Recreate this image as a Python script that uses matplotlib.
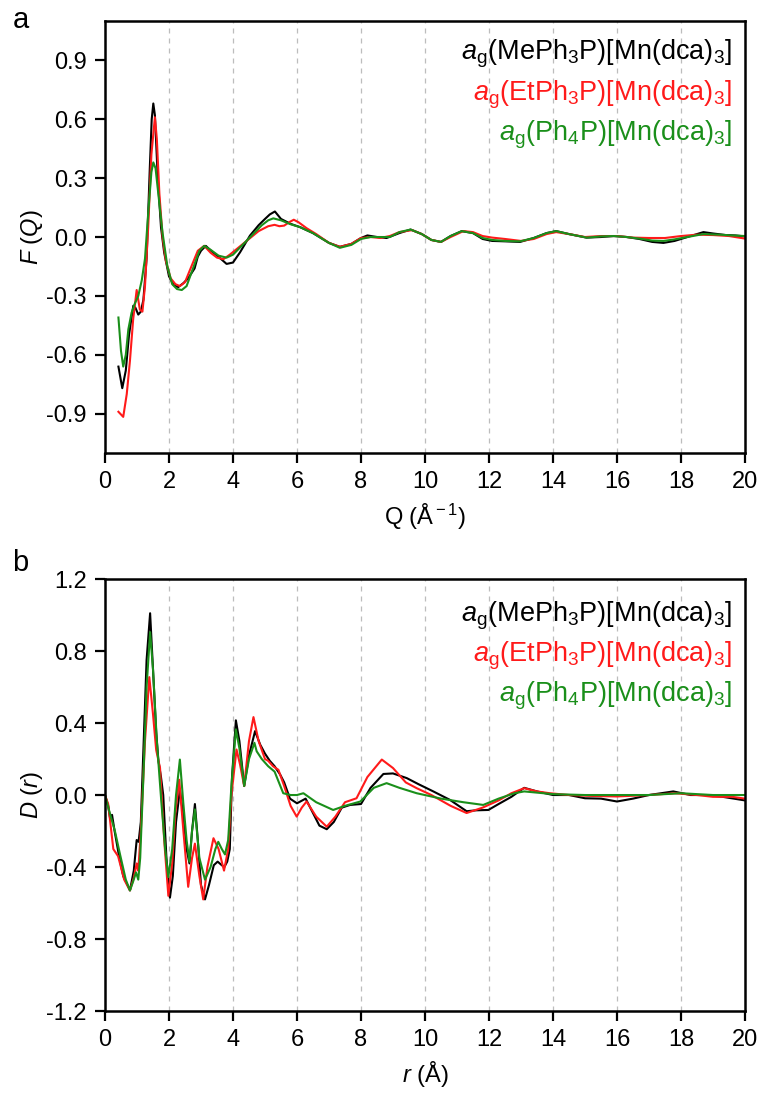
import matplotlib
matplotlib.use("Agg")
import matplotlib.pyplot as plt
import numpy as np

plt.rcParams['font.family'] = ['Liberation Sans', 'DejaVu Sans']
plt.rcParams['mathtext.fontset'] = 'custom'
plt.rcParams['mathtext.rm'] = 'Liberation Sans'
plt.rcParams['mathtext.it'] = 'Liberation Sans:italic'
plt.rcParams['axes.unicode_minus'] = False

# ---- panel a: F(Q) ----
q_me = [0.42, 0.54, 0.65, 0.75, 0.885, 0.95, 1.04, 1.12, 1.2, 1.3, 1.4, 1.46, 1.51, 1.56, 1.65,
        1.75, 1.85, 2.0, 2.15, 2.29, 2.45, 2.6, 2.8, 2.9, 3.0, 3.15, 3.31, 3.57, 3.8, 4.0, 4.22,
        4.53, 4.8, 5.0, 5.15, 5.31, 5.5, 5.8, 6.1, 6.5, 7.0, 7.34, 7.7, 8.0, 8.2, 8.5, 8.8,
        9.2, 9.55, 9.9, 10.2, 10.5, 10.8, 11.15, 11.5, 11.8, 12.1, 12.5, 12.97, 13.4, 13.8,
        14.1, 14.5, 15.05, 15.5, 15.9, 16.3, 16.7, 17.1, 17.45, 17.8, 18.2, 18.7, 19.0, 19.4,
        19.7, 20.0]
f_me = [-0.66, -0.77, -0.68, -0.50, -0.35, -0.36, -0.395, -0.38, -0.32, -0.11, 0.35, 0.60,
        0.68, 0.62, 0.30, 0.05, -0.08, -0.20, -0.245, -0.255, -0.235, -0.21, -0.16, -0.10,
        -0.07, -0.045, -0.07, -0.104, -0.137, -0.13, -0.078, 0.007, 0.06, 0.092, 0.115, 0.13,
        0.092, 0.067, 0.05, 0.02, -0.03, -0.05, -0.035, -0.005, 0.008, 0.0, -0.005, 0.02,
        0.038, 0.015, -0.015, -0.025, 0.005, 0.03, 0.02, -0.01, -0.02, -0.022, -0.025, -0.005,
        0.02, 0.03, 0.015, -0.003, 0.0, 0.005, 0.0, -0.01, -0.025, -0.03, -0.02, 0.0, 0.025,
        0.018, 0.01, 0.008, 0.003]

q_et = [0.42, 0.57, 0.68, 0.78, 0.88, 0.99, 1.09, 1.17, 1.25, 1.35, 1.45, 1.56, 1.62, 1.7,
        1.8, 1.9, 2.05, 2.2, 2.34, 2.5, 2.7, 2.9, 3.1, 3.3, 3.5, 3.7, 3.9, 4.2, 4.5, 4.8, 5.1,
        5.3, 5.45, 5.6, 5.75, 5.9, 6.05, 6.3, 6.6, 7.0, 7.34, 7.7, 8.0, 8.3, 8.6, 8.9, 9.2,
        9.6, 9.9, 10.2, 10.5, 10.8, 11.2, 11.5, 11.8, 12.1, 12.5, 13.0, 13.4, 13.8, 14.1,
        14.5, 15.0, 15.5, 16.0, 16.5, 17.0, 17.5, 18.0, 18.5, 19.0, 19.5, 20.0]
f_et = [-0.89, -0.916, -0.80, -0.63, -0.42, -0.27, -0.37, -0.38, -0.25, 0.05, 0.42, 0.61,
        0.50, 0.22, 0.0, -0.12, -0.21, -0.24, -0.25, -0.23, -0.15, -0.07, -0.045, -0.08,
        -0.105, -0.113, -0.09, -0.05, -0.01, 0.03, 0.055, 0.062, 0.055, 0.058, 0.075, 0.088,
        0.075, 0.045, 0.015, -0.03, -0.05, -0.035, -0.005, 0.0, -0.005, 0.005, 0.025, 0.035,
        0.015, -0.015, -0.025, 0.0, 0.03, 0.025, 0.005, -0.003, -0.01, -0.02, -0.01, 0.015,
        0.025, 0.015, 0.0, 0.005, 0.005, -0.003, -0.005, -0.005, 0.005, 0.012, 0.01, 0.005,
        -0.008]

q_ph = [0.42, 0.5, 0.57, 0.65, 0.73, 0.83, 0.93, 1.04, 1.15, 1.25, 1.35, 1.45, 1.51, 1.58,
        1.68, 1.8, 1.95, 2.1, 2.25, 2.4, 2.55, 2.75, 2.95, 3.1, 3.3, 3.55, 3.8, 4.0, 4.3, 4.6,
        4.9, 5.1, 5.26, 5.5, 5.8, 6.1, 6.5, 7.0, 7.34, 7.7, 8.0, 8.3, 8.6, 8.9, 9.2, 9.55,
        9.9, 10.2, 10.5, 10.8, 11.15, 11.5, 11.8, 12.1, 12.5, 12.97, 13.4, 13.8, 14.1, 14.5,
        15.05, 15.5, 15.9, 16.3, 16.7, 17.1, 17.45, 17.8, 18.2, 18.7, 19.2, 19.6, 20.0]
f_ph = [-0.41, -0.58, -0.66, -0.60, -0.47, -0.386, -0.34, -0.30, -0.22, -0.11, 0.12, 0.33,
        0.38, 0.35, 0.20, 0.02, -0.15, -0.24, -0.265, -0.27, -0.25, -0.16, -0.07, -0.045,
        -0.065, -0.095, -0.105, -0.09, -0.04, 0.01, 0.06, 0.085, 0.095, 0.085, 0.065, 0.05,
        0.02, -0.03, -0.055, -0.04, -0.01, 0.0, 0.0, 0.0, 0.025, 0.038, 0.015, -0.015,
        -0.025, 0.005, 0.03, 0.02, -0.005, -0.015, -0.02, -0.022, -0.005, 0.02, 0.03, 0.015,
        -0.003, 0.003, 0.005, 0.0, -0.008, -0.018, -0.02, -0.012, 0.0, 0.015, 0.012, 0.008,
        0.005]

# ---- panel b: D(r) ----
r_me = [0.0, 0.1, 0.16, 0.22, 0.3, 0.45, 0.57, 0.78, 0.9, 0.99, 1.05, 1.12, 1.2, 1.3, 1.41,
        1.5, 1.6, 1.67, 1.75, 1.82, 1.92, 2.03, 2.12, 2.22, 2.34, 2.45, 2.55, 2.64, 2.72, 2.81,
        2.9, 3.0, 3.125, 3.25, 3.4, 3.52, 3.65, 3.73, 3.82, 3.9, 3.97, 4.09, 4.2, 4.35, 4.5,
        4.69, 4.85, 5.0, 5.15, 5.3, 5.47, 5.6, 5.78, 6.0, 6.27, 6.5, 6.7, 6.93, 7.15, 7.4,
        7.66, 8.0, 8.3, 8.7, 9.0, 9.43, 9.8, 10.26, 10.78, 11.3, 11.6, 11.98, 12.3, 12.7,
        13.1, 13.5, 14.0, 14.5, 15.0, 15.5, 16.0, 16.5, 17.0, 17.76, 18.3, 18.8, 19.3, 20.0]
d_me = [0.0, -0.06, -0.13, -0.11, -0.2, -0.35, -0.45, -0.53, -0.42, -0.25, -0.26, -0.15,
        0.25, 0.75, 1.01, 0.7, 0.35, 0.19, 0.1, 0.0, -0.35, -0.57, -0.45, -0.15, 0.03, -0.12,
        -0.3, -0.38, -0.2, -0.05, -0.25, -0.5, -0.58, -0.5, -0.39, -0.37, -0.39, -0.4, -0.37,
        -0.3, 0.1, 0.415, 0.3, 0.05, 0.22, 0.355, 0.28, 0.23, 0.19, 0.16, 0.115, 0.07, -0.02,
        -0.046, -0.02, -0.1, -0.17, -0.19, -0.15, -0.07, -0.055, -0.05, 0.04, 0.117, 0.12,
        0.094, 0.06, 0.02, -0.027, -0.09, -0.085, -0.083, -0.05, -0.01, 0.04, 0.02, 0.0, 0.0,
        -0.018, -0.02, -0.036, -0.02, 0.0, 0.02, 0.0, 0.0, -0.01, -0.03]

r_et = [0.0, 0.1, 0.26, 0.41, 0.6, 0.78, 0.9, 0.99, 1.04, 1.12, 1.25, 1.385, 1.5, 1.6, 1.72,
        1.85, 1.98, 2.1, 2.2, 2.32, 2.45, 2.6, 2.72, 2.81, 2.95, 3.07, 3.2, 3.39, 3.55, 3.72,
        3.85, 3.95, 4.11, 4.22, 4.35, 4.5, 4.64, 4.8, 5.0, 5.1, 5.25, 5.42, 5.6, 5.8, 5.99,
        6.15, 6.3, 6.6, 6.93, 7.2, 7.5, 7.86, 8.2, 8.65, 9.0, 9.4, 9.74, 10.2, 10.8, 11.3,
        11.8, 12.3, 12.7, 13.1, 13.5, 13.9, 14.5, 15.2, 16.0, 17.0, 17.8, 18.5, 19.0, 19.6,
        20.0]
d_et = [0.0, -0.05, -0.3, -0.34, -0.47, -0.53, -0.46, -0.38, -0.42, -0.2, 0.3, 0.655, 0.45,
        0.25, 0.15, -0.25, -0.56, -0.38, -0.1, 0.085, -0.2, -0.51, -0.35, -0.27, -0.45, -0.58,
        -0.4, -0.24, -0.3, -0.42, -0.3, 0.0, 0.253, 0.17, 0.05, 0.3, 0.433, 0.3, 0.2, 0.19,
        0.16, 0.14, 0.05, -0.06, -0.12, -0.07, -0.036, -0.12, -0.176, -0.12, -0.04, -0.018,
        0.1, 0.197, 0.15, 0.07, 0.038, 0.0, -0.06, -0.1, -0.07, -0.03, 0.01, 0.038, 0.02,
        0.01, 0.0, -0.005, -0.008, 0.0, 0.01, 0.0, -0.01, -0.01, -0.02]

r_ph = [0.0, 0.15, 0.31, 0.47, 0.65, 0.78, 0.88, 0.97, 1.04, 1.1, 1.2, 1.3, 1.41, 1.5, 1.62,
        1.76, 1.88, 1.98, 2.1, 2.22, 2.34, 2.45, 2.55, 2.64, 2.72, 2.81, 2.95, 3.125, 3.3,
        3.45, 3.54, 3.65, 3.75, 3.85, 3.95, 4.09, 4.2, 4.35, 4.5, 4.67, 4.74, 4.9, 5.1, 5.3,
        5.57, 5.8, 6.0, 6.2, 6.6, 7.13, 7.5, 7.98, 8.4, 8.8, 9.2, 9.74, 10.5, 11.2, 11.82,
        12.3, 12.8, 13.1, 14.0, 15.0, 16.0, 17.0, 18.0, 19.0, 20.0]
d_ph = [0.0, -0.1, -0.2, -0.33, -0.47, -0.53, -0.48, -0.43, -0.47, -0.35, 0.1, 0.6, 0.905,
        0.7, 0.3, -0.036, -0.3, -0.456, -0.3, 0.0, 0.197, -0.05, -0.25, -0.37, -0.2, -0.08,
        -0.35, -0.47, -0.4, -0.3, -0.26, -0.3, -0.33, -0.25, 0.05, 0.365, 0.26, 0.05, 0.2,
        0.29, 0.243, 0.2, 0.16, 0.13, 0.01, 0.0, 0.0, 0.01, -0.04, -0.083, -0.06, -0.036,
        0.04, 0.066, 0.04, 0.01, -0.02, -0.04, -0.055, -0.02, 0.01, 0.02, 0.005, 0.0, 0.0,
        0.0, 0.01, 0.0, 0.0]

names = [r'$a_{\rm g}$(MePh$_3$P)[Mn(dca)$_3$]',
         r'$a_{\rm g}$(EtPh$_3$P)[Mn(dca)$_3$]',
         r'$a_{\rm g}$(Ph$_4$P)[Mn(dca)$_3$]']
colors = ['black', '#ff1a1a', '#1a8f1a']

fig = plt.figure(figsize=(7.63, 10.95), dpi=100)
ax1 = fig.add_axes([0.1376, 0.5863, 0.8388, 0.3945])
ax2 = fig.add_axes([0.1376, 0.0767, 0.8388, 0.3945])


def tick_fmt(vals):
    return ['0.0' if abs(v) < 1e-9 else f'{v:.1f}' for v in vals]


def style_axis(ax):
    ax.set_xlim(0, 20)
    ax.set_xticks(np.arange(0, 21, 2))
    for x in range(2, 20, 2):
        ax.axvline(x, color='#bdbdbd', lw=0.9, ls=(0, (4, 4)), zorder=0)
    for s in ax.spines.values():
        s.set_linewidth(1.8)
    ax.tick_params(direction='out', length=7, width=1.6, labelsize=17,
                   top=False, right=False, pad=6)


# panel a
ax1.plot(q_me, f_me, color=colors[0], lw=1.5)
ax1.plot(q_et, f_et, color=colors[1], lw=1.5)
ax1.plot(q_ph, f_ph, color=colors[2], lw=1.5)
style_axis(ax1)
ax1.set_ylim(-1.1, 1.1)
yt1 = np.arange(-0.9, 0.91, 0.3)
ax1.set_yticks(yt1)
ax1.set_yticklabels(tick_fmt(yt1))
ax1.set_ylabel(r'$F\ (Q)$', fontsize=17, labelpad=1)
ax1.set_xlabel(r'Q (Å$^{\rm -1}$)', fontsize=17, labelpad=6)
for name, c, yy in zip(names, colors, [0.911, 0.817, 0.723]):
    ax1.text(0.98, yy, name, color=c, fontsize=19.5, ha='right', va='baseline',
             transform=ax1.transAxes)

# panel b
ax2.plot(r_me, d_me, color=colors[0], lw=1.5)
ax2.plot(r_et, d_et, color=colors[1], lw=1.5)
ax2.plot(r_ph, d_ph, color=colors[2], lw=1.5)
style_axis(ax2)
ax2.set_ylim(-1.2, 1.2)
yt2 = np.arange(-1.2, 1.21, 0.4)
ax2.set_yticks(yt2)
ax2.set_yticklabels(tick_fmt(yt2))
ax2.set_ylabel(r'$D\ (r)$', fontsize=17, labelpad=1)
ax2.set_xlabel(r'$r$ (Å)', fontsize=17, labelpad=6)
for name, c, yy in zip(names, colors, [0.901, 0.809, 0.716]):
    ax2.text(0.98, yy, name, color=c, fontsize=19.5, ha='right', va='baseline',
             transform=ax2.transAxes)

fig.text(0.027, 0.982, 'a', fontsize=21, ha='center', va='center')
fig.text(0.027, 0.486, 'b', fontsize=21, ha='center', va='center')

fig.savefig('out.png', dpi=100)
